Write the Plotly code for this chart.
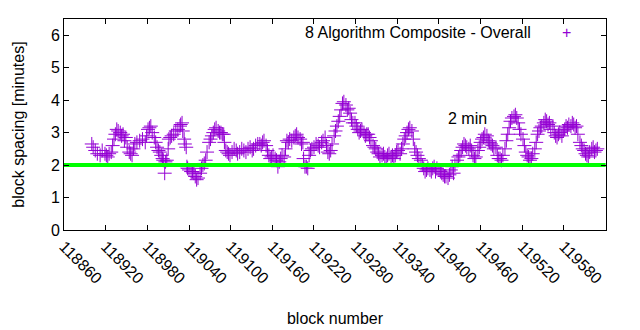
import plotly.graph_objects as go

blocks_a = [118900,118905,118912,118919,118923,118928,118932,118936,118941,118945,118949,118954,118958,118962,118969,118977,118981,118985,118990,118994,118998,119002,119005,119008,119011,119015,119021,119027,119030,119033,119036,119038,119043,119047,119051,119056,119060,119064,119069,119073,119077,119082,119086,119090,119093,119097,119102,119108,119113,119119,119125,119131,119136,119142,119146,119151,119155,119159,119164,119168,119172,119177,119181,119185,119191,119195,119200,119204,119207,119211,119215,119220,119226,119231,119236,119240,119244,119249,119253,119257,119261,119266,119270,119274,119279,119283,119287,119292,119296,119300,119305,119309,119313,119318,119322,119326,119331,119335,119339,119344,119348,119352,119356,119361,119365,119369,119374,119378,119382,119387,119391,119395,119400,119404,119408,119413,119417,119421,119426,119430,119434,119438,119443,119447,119451,119456,119460,119464,119469,119473,119477,119482,119486,119490,119495,119499,119503,119508,119512,119516,119521,119525,119529,119533,119538,119542,119546,119551,119555,119559,119564,119568,119572,119577,119581,119585,119590,119594,119598,119603,119607,119611,119615,119620,119624,119628]
spacing_a = [2.65,2.45,2.3,2.35,2.25,2.4,2.8,3.1,3.0,2.95,2.85,2.4,2.3,2.65,2.75,2.7,3.1,3.2,2.85,2.55,2.4,2.2,1.75,2.15,2.8,2.9,3.05,3.2,3.3,2.8,2.55,1.9,1.8,1.75,1.55,1.75,2.0,2.15,2.7,2.9,3.1,3.05,3.0,2.95,2.45,2.35,2.4,2.45,2.4,2.45,2.5,2.45,2.6,2.65,2.7,2.6,2.3,2.25,2.2,1.95,2.2,2.25,2.75,2.8,2.85,2.95,2.8,2.7,1.95,1.9,2.45,2.55,2.6,2.7,2.85,2.4,2.45,2.9,3.2,3.5,3.9,3.85,3.75,3.4,3.3,3.1,3.05,3.0,2.95,2.85,2.6,2.5,2.35,2.3,2.25,2.3,2.25,2.2,2.4,2.35,2.65,2.9,3.1,3.05,2.5,2.3,2.15,1.9,1.85,1.85,1.9,1.8,1.85,1.75,1.65,1.6,1.85,1.75,2.15,2.3,2.55,2.6,2.5,2.45,2.2,2.45,2.7,2.85,2.9,2.7,2.6,2.55,2.2,2.15,2.5,2.95,3.35,3.5,3.45,3.1,2.8,2.4,2.25,2.2,2.5,2.95,3.15,3.3,3.35,3.3,3.2,2.9,2.95,2.9,3.1,3.15,3.2,3.25,3.2,2.7,2.5,2.35,2.25,2.5,2.4,2.5]

blocks_b = [118902,118908,118915,118921,118925,118930,118934,118938,118943,118947,118951,118956,118960,118965,118973,118979,118983,118987,118992,118996,119000,119003,119006,119010,119013,119018,119024,119028,119031,119034,119037,119040,119045,119049,119053,119058,119062,119066,119071,119075,119079,119084,119088,119091,119095,119099,119105,119110,119116,119122,119128,119133,119139,119144,119148,119153,119157,119161,119166,119170,119174,119179,119183,119188,119193,119197,119202,119205,119209,119213,119217,119223,119228,119233,119238,119242,119246,119251,119255,119259,119263,119268,119272,119276,119281,119285,119289,119294,119298,119302,119307,119311,119315,119320,119324,119328,119333,119337,119341,119346,119350,119354,119358,119363,119367,119371,119376,119380,119384,119389,119393,119397,119402,119406,119410,119415,119419,119423,119428,119432,119436,119440,119445,119449,119453,119458,119462,119466,119471,119475,119479,119484,119488,119492,119497,119501,119505,119510,119514,119518,119523,119527,119531,119535,119540,119544,119548,119553,119557,119561,119566,119570,119574,119579,119583,119587,119592,119596,119600,119605,119609,119613,119617,119622,119626]
spacing_b = [2.55,2.35,2.45,2.3,2.35,2.6,2.95,3.05,2.9,2.75,2.55,2.35,2.5,2.7,2.8,2.9,3.15,3.0,2.7,2.45,2.3,2.15,2.1,2.5,2.85,2.95,3.1,3.25,3.05,2.65,1.95,1.85,1.8,1.65,1.6,1.9,2.05,2.4,2.8,3.0,3.15,3.0,2.95,2.7,2.4,2.3,2.5,2.35,2.5,2.4,2.55,2.5,2.65,2.6,2.75,2.45,2.2,2.3,2.15,2.1,2.3,2.5,2.7,2.75,2.9,2.85,2.65,2.2,1.95,2.3,2.5,2.65,2.55,2.75,2.6,2.35,2.65,3.05,3.35,3.7,3.95,3.7,3.6,3.3,3.2,3.0,3.1,2.9,2.95,2.75,2.55,2.4,2.25,2.35,2.2,2.35,2.3,2.3,2.45,2.5,2.8,3.0,3.15,2.8,2.4,2.2,2.0,1.8,1.9,1.8,1.95,1.9,1.8,1.7,1.65,1.7,1.95,2.0,2.25,2.45,2.65,2.55,2.6,2.3,2.25,2.55,2.8,2.95,2.75,2.65,2.5,2.3,2.2,2.3,2.75,3.15,3.45,3.55,3.3,2.95,2.6,2.3,2.15,2.35,2.7,3.05,3.2,3.4,3.25,3.1,3.0,2.85,3.0,3.05,3.2,3.25,3.3,3.15,2.95,2.6,2.45,2.3,2.4,2.55,2.45]

target = 2
series_name = "8 Algorithm Composite - Overall"
x_ticks = list(range(118860, 119641, 60))
y_ticks = [0, 1, 2, 3, 4, 5, 6]

FONT = "Liberation Sans, Arial, sans-serif"
FS = 16
PURPLE = "#9400d3"

fig = go.Figure()
fig.add_trace(go.Scatter(
    x=blocks_a + blocks_b, y=spacing_a + spacing_b, mode="markers", name=series_name,
    marker=dict(symbol="cross-thin-open", size=10, color=PURPLE,
                line=dict(color=PURPLE, width=1)),
    showlegend=False,
))
fig.add_trace(go.Scatter(
    x=[x_ticks[0], x_ticks[-1]], y=[target, target], mode="lines",
    line=dict(color="#00ff00", width=4), showlegend=False,
))

fig.add_annotation(x=119410, y=3.45, xref="x", yref="y", text="2 min",
                   showarrow=False, xanchor="left", yanchor="middle",
                   font=dict(family=FONT, size=FS, color="black"))
fig.add_annotation(x=0.865, y=0.934, xref="paper", yref="paper", text=series_name,
                   showarrow=False, xanchor="right", yanchor="middle",
                   font=dict(family=FONT, size=FS, color="black"))
fig.add_annotation(x=0.928, y=0.934, xref="paper", yref="paper", text="+",
                   showarrow=False, xanchor="center", yanchor="middle",
                   font=dict(family=FONT, size=FS, color=PURPLE))

axis_common = dict(showline=True, linecolor="black", linewidth=1, mirror="ticks",
                   ticks="inside", ticklen=5, tickcolor="black", showgrid=False,
                   zeroline=False, automargin=False,
                   tickfont=dict(family=FONT, size=FS, color="black"))

fig.update_xaxes(range=[118860, 119640.5], tickvals=x_ticks,
                 ticktext=[str(v) for v in x_ticks], tickangle=45,
                 title=dict(text="block number", font=dict(family=FONT, size=FS, color="black"), standoff=26),
                 **axis_common)
fig.update_yaxes(range=[0, 6.5], tickvals=y_ticks,
                 title=dict(text="block spacing [minutes]", font=dict(family=FONT, size=FS, color="black"), standoff=22),
                 **axis_common)

fig.update_layout(width=640, height=330, margin=dict(l=64, r=34, t=19, b=100),
                  plot_bgcolor="white", paper_bgcolor="white",
                  font=dict(family=FONT, size=FS, color="black"))

fig.write_html("out.html")
